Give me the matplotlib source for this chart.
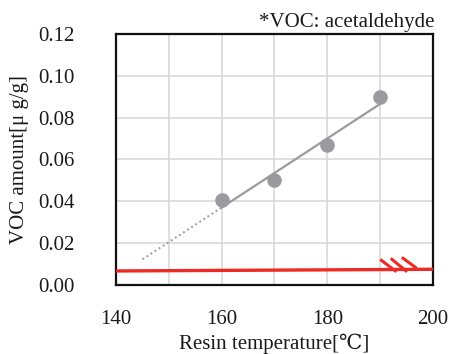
import numpy as np
import matplotlib
matplotlib.use("Agg")
import matplotlib.pyplot as plt

plt.rcParams['font.family'] = ['Liberation Serif', 'DejaVu Serif', 'Noto Sans CJK JP']

# Data
temperature = [160, 170, 180, 190]
voc_amount = [0.0405, 0.050, 0.0667, 0.090]
trend_extrap_start = 145
limit_x = [140, 200]
limit_y = [0.0067, 0.0075]
hatch_x0 = [190.0, 192.0, 194.1]
hatch_y0 = [0.0122, 0.0127, 0.0132]
hatch_x1 = [193.1, 195.1, 196.9]
hatch_y1 = [0.0063, 0.0063, 0.0080]
x_ticks = [140, 150, 160, 170, 180, 190, 200]
x_labels = ['140', '', '160', '', '180', '', '200']
y_ticks = [0.00, 0.02, 0.04, 0.06, 0.08, 0.10, 0.12]

fig = plt.figure(figsize=(4.52, 3.54), dpi=100)
ax = fig.add_axes([0.2566, 0.195, 0.958 - 0.2566, 0.9040 - 0.195])

gray = '#9b9b9f'
red = '#ee2a24'
text_color = '#1a1a1a'

# trend line from data fit
coef = np.polyfit(temperature, voc_amount, 1)
xs = np.array([temperature[0], temperature[-1]])
ax.plot(xs, np.polyval(coef, xs), color=gray, lw=1.6, zorder=3)
xd = np.array([trend_extrap_start, temperature[0]])
ax.plot(xd, np.polyval(coef, xd), color=gray, lw=1.4, ls=(0, (1, 1.5)), zorder=3)

ax.plot(temperature, voc_amount, 'o', color=gray, ms=10.5, mec='none', zorder=4)

ax.plot(limit_x, limit_y, color=red, lw=2.4, zorder=5, solid_capstyle='butt', clip_on=False)
for x0, y0, x1, y1 in zip(hatch_x0, hatch_y0, hatch_x1, hatch_y1):
    ax.plot([x0, x1], [y0, y1], color=red, lw=2.2, zorder=5, solid_capstyle='butt')

ax.set_xlim(140, 200)
ax.set_ylim(0, 0.12)
ax.set_xticks(x_ticks)
ax.set_xticklabels(x_labels)
ax.set_yticks(y_ticks)
ax.set_yticklabels([f'{v:.2f}' for v in y_ticks])
ax.tick_params(axis='y', length=0, labelsize=15, pad=30, labelcolor=text_color)
ax.tick_params(axis='x', length=0, labelsize=15, pad=18, labelcolor=text_color)
ax.grid(True, color='#d9d9d9', lw=1.2)
ax.set_axisbelow(True)
for s in ax.spines.values():
    s.set_linewidth(1.6)
    s.set_color('#111111')

ax.set_xlabel('Resin temperature[℃]', fontsize=15, labelpad=3, color=text_color)
ax.set_ylabel('VOC amount[μ g/g]', fontsize=15, labelpad=6, color=text_color)
fig.text(0.962, 0.925, '*VOC: acetaldehyde', ha='right', va='baseline', fontsize=15,
         color=text_color)

fig.savefig('out.png', dpi=100)
